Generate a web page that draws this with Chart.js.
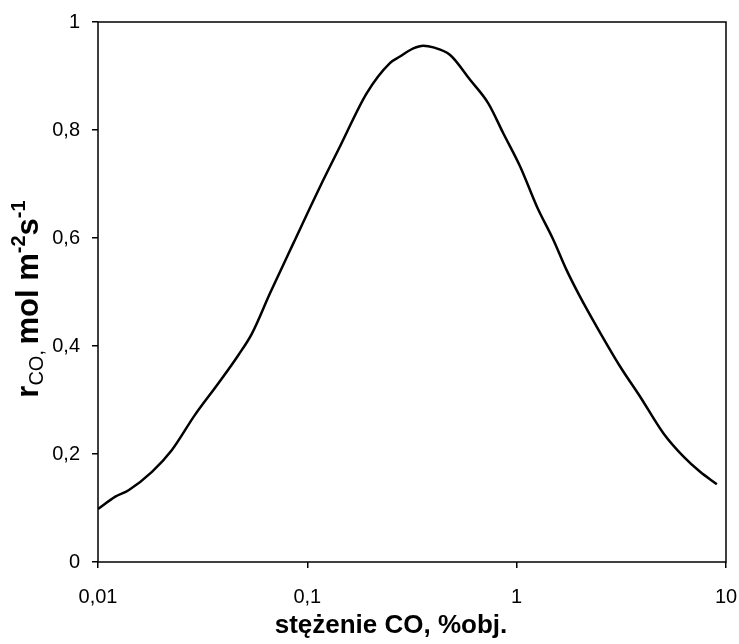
<!DOCTYPE html>
<html>
<head>
<meta charset="utf-8">
<script src="https://cdn.jsdelivr.net/npm/chart.js@4"></script>
<style>
  body { margin: 0; background: #fff; }
  #wrap { width: 739px; height: 644px; }
</style>
</head>
<body>
<div id="wrap"><canvas id="rateChart"></canvas></div>
<script>
// stężenie CO (%obj.) i szybkość reakcji r_CO (mol m-2 s-1)
const concentration = [0.01, 0.0121, 0.014, 0.0181, 0.0225, 0.029, 0.0376, 0.0468, 0.0542,
    0.0664, 0.0857, 0.115, 0.143, 0.192, 0.248, 0.277, 0.321, 0.358, 0.40, 0.481, 0.599, 0.733,
    0.863, 1.04, 1.25, 1.50, 1.73, 2.01, 2.41, 3.12, 3.89, 5.03, 6.27, 7.52, 9.04];
const rateCO = [0.098, 0.121, 0.133, 0.167, 0.207, 0.272, 0.331, 0.383, 0.422,
    0.498, 0.590, 0.695, 0.769, 0.868, 0.924, 0.936, 0.951, 0.956, 0.953, 0.939, 0.893, 0.849,
    0.794, 0.732, 0.658, 0.596, 0.541, 0.491, 0.436, 0.362, 0.306, 0.238, 0.195, 0.167, 0.144];
const xTicks = [0.01, 0.1, 1, 10];
const yTicks = [0, 0.2, 0.4, 0.6, 0.8, 1];

const FONT = "'Liberation Sans', Arial, sans-serif";

function plNumber(v) {
    return String(Number(v.toFixed(3))).replace('.', ',');
}

// ramka wokół obszaru wykresu + tytuły osi (oś Y z indeksami)
const framePlugin = {
    id: 'frame',
    afterDraw(chart) {
        const { ctx, chartArea: a } = chart;
        ctx.save();
        ctx.strokeStyle = '#000';
        ctx.lineWidth = 1.5;
        ctx.strokeRect(a.left, a.top, a.right - a.left, a.bottom - a.top);

        ctx.fillStyle = '#000';
        ctx.font = 'bold 26px ' + FONT;
        ctx.textAlign = 'center';
        ctx.textBaseline = 'middle';
        ctx.fillText('stężenie CO, %obj.', 391, 626);

        const parts = [
            { t: 'r', f: 'bold 31px ' + FONT, dy: 0 },
            { t: 'CO', f: '20px ' + FONT, dy: 5 },
            { t: ', ', f: '20px ' + FONT, dy: 5 },
            { t: 'mol m', f: 'bold 31px ' + FONT, dy: 0 },
            { t: '-2', f: 'bold 20px ' + FONT, dy: -13 },
            { t: 's', f: 'bold 31px ' + FONT, dy: 0 },
            { t: '-1', f: 'bold 20px ' + FONT, dy: -13 }
        ];
        let total = 0;
        parts.forEach(p => { ctx.font = p.f; p.w = ctx.measureText(p.t).width; total += p.w; });
        ctx.translate(38, 299);
        ctx.rotate(-Math.PI / 2);
        ctx.textAlign = 'left';
        ctx.textBaseline = 'alphabetic';
        let x = -total / 2;
        parts.forEach(p => {
            ctx.font = p.f;
            ctx.fillText(p.t, x, p.dy);
            x += p.w;
        });
        ctx.restore();
    }
};

function initChart() {
    const points = concentration.map((c, i) => ({ x: c, y: rateCO[i] }));
    const ctx = document.getElementById('rateChart').getContext('2d');
    new Chart(ctx, {
        type: 'line',
        data: {
            datasets: [{
                data: points,
                borderColor: '#000',
                borderWidth: 2.5,
                pointRadius: 0,
                fill: false,
                cubicInterpolationMode: 'monotone'
            }]
        },
        options: {
            responsive: true,
            maintainAspectRatio: false,
            animation: false,
            layout: { padding: { top: 22, right: 13, left: 0, bottom: 0 } },
            plugins: { legend: { display: false }, tooltip: { enabled: false } },
            scales: {
                x: {
                    type: 'logarithmic',
                    min: 0.01,
                    max: 10,
                    afterBuildTicks: s => { s.ticks = xTicks.map(v => ({ value: v })); },
                    afterFit: s => { s.height = 82; s.paddingLeft = 0; s.paddingRight = 0; },
                    border: { display: false },
                    grid: { drawOnChartArea: false, drawTicks: true, tickLength: 6, color: '#000', lineWidth: 1.5 },
                    ticks: {
                        color: '#000',
                        font: { family: FONT, size: 20 },
                        padding: 17,
                        maxRotation: 0,
                        autoSkip: false,
                        callback: v => plNumber(v)
                    }
                },
                y: {
                    min: 0,
                    max: 1,
                    afterBuildTicks: s => { s.ticks = yTicks.map(v => ({ value: v })); },
                    afterFit: s => { s.width = 98; s.paddingTop = 0; s.paddingBottom = 0; },
                    border: { display: false },
                    grid: { drawOnChartArea: false, drawTicks: true, tickLength: 6, color: '#000', lineWidth: 1.5 },
                    ticks: {
                        color: '#000',
                        font: { family: FONT, size: 20 },
                        padding: 12,
                        callback: v => plNumber(v)
                    }
                }
            }
        },
        plugins: [framePlugin]
    });
}

window.onload = initChart;
</script>
</body>
</html>
